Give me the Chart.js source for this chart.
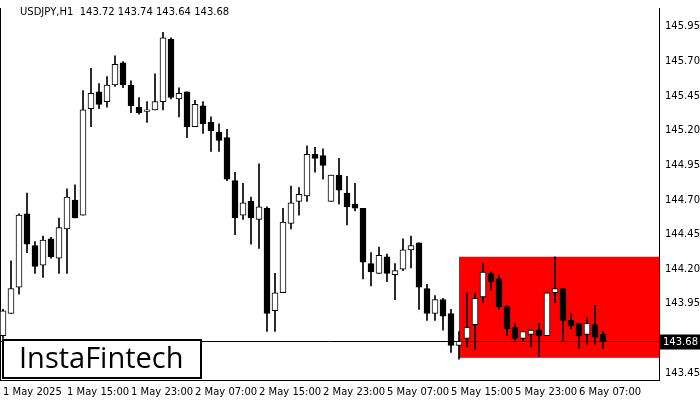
<!DOCTYPE html>
<html><head><meta charset="utf-8">
<script src="https://cdn.jsdelivr.net/npm/chart.js@4"></script>
<style>html,body{margin:0;padding:0;background:#fff}#wrap{width:700px;height:400px}</style>
</head><body><div id="wrap"><canvas id="c" width="700" height="400"></canvas></div>
<script>
const opens  = [143.72,143.88,144.07,144.60,144.37,144.23,144.42,144.28,144.49,144.70,144.59,145.36,145.48,145.41,145.53,145.69,145.53,145.37,145.34,145.35,145.41,145.86,145.43,145.48,145.23,145.38,145.26,145.19,145.15,144.84,144.59,144.69,144.56,144.64,143.90,144.03,144.53,144.69,144.73,145.03,145.02,144.69,144.88,144.75,144.67,144.64,144.24,144.17,144.29,144.16,144.20,144.34,144.39,144.06,143.88,143.98,143.88,143.65,143.70,143.80,144.00,144.17,144.13,143.93,143.78,143.70,143.73,143.76,143.72,144.03,144.06,143.83,143.81,143.73,143.80,143.73];
const highs  = [143.91,144.26,144.60,144.75,144.40,144.44,144.43,144.57,144.78,144.81,145.49,145.65,145.54,145.59,145.74,145.70,145.56,145.44,145.41,145.61,145.91,145.87,145.51,145.48,145.42,145.41,145.30,145.25,145.21,144.90,144.82,144.72,144.96,144.65,144.17,144.64,144.80,144.79,145.09,145.08,145.07,144.88,145.00,144.87,144.82,144.64,144.32,144.36,144.31,144.24,144.42,144.44,144.39,144.09,144.01,143.99,143.91,143.75,144.03,144.03,144.24,144.18,144.16,143.94,143.81,143.75,143.76,143.81,144.03,144.29,144.06,143.88,143.81,143.85,143.94,143.75];
const lows   = [143.70,143.88,144.02,144.32,144.17,144.14,144.28,144.17,144.17,144.57,144.59,145.23,145.36,145.37,145.52,145.51,145.33,145.32,145.26,145.35,145.35,145.43,145.30,145.15,145.23,145.18,145.05,145.05,144.84,144.45,144.56,144.38,144.35,143.75,143.75,144.03,144.49,144.59,144.69,144.90,144.85,144.69,144.67,144.52,144.62,144.13,144.08,144.17,144.11,143.98,144.19,144.21,143.91,143.83,143.83,143.76,143.60,143.55,143.64,143.62,143.96,144.05,143.91,143.72,143.69,143.68,143.64,143.57,143.72,143.96,143.68,143.77,143.63,143.66,143.66,143.63];
const closes = [143.90,144.06,144.59,144.38,144.22,144.41,144.29,144.50,144.72,144.57,145.35,145.47,145.39,145.53,145.68,145.53,145.38,145.33,145.35,145.41,145.87,145.44,145.47,145.23,145.39,145.25,145.20,145.13,144.85,144.57,144.68,144.57,144.65,143.88,144.03,144.54,144.68,144.74,145.03,145.00,144.95,144.88,144.77,144.65,144.64,144.25,144.18,144.30,144.17,144.19,144.34,144.37,144.07,143.88,143.98,143.86,143.65,143.68,143.78,143.99,144.18,144.11,143.93,143.77,143.70,143.75,143.76,143.72,144.03,144.06,143.83,143.79,143.72,143.81,143.71,143.68];
const timeTickIdx = [0,8,16,24,32,40,48,56,64,72];
const timeLabels = ["1 May 2025","1 May 15:00","1 May 23:00","2 May 07:00","2 May 15:00","2 May 23:00","5 May 07:00","5 May 15:00","5 May 23:00","6 May 07:00"];
const priceTicks = [143.45,143.70,143.95,144.20,144.45,144.70,144.95,145.20,145.45,145.70,145.95];
const zoneStart = 57, zoneLow = 143.56, zoneHigh = 144.29;
const lastPrice = 143.68;
const title = "USDJPY,H1  143.72 143.74 143.64 143.68";

const up = opens.map((o,i)=>closes[i]>=o);
const wickData = highs.map((h,i)=>({x:i,y:[lows[i],h]}));
const bodyData = opens.map((o,i)=>({x:i,y:[o,closes[i]]}));

const overlay = {
  id:'overlay',
  beforeDatasetsDraw(ch){
    const {ctx,chartArea:a,scales:{x,y}} = ch;
    ctx.save();
    ctx.fillStyle='#ff0000';
    const x0=x.getPixelForValue(zoneStart), y0=y.getPixelForValue(zoneHigh), y1=y.getPixelForValue(zoneLow);
    ctx.fillRect(x0,y0,a.right-x0,y1-y0);
    ctx.strokeStyle='#000';ctx.lineWidth=1;
    ctx.beginPath();ctx.moveTo(0.5,a.top);ctx.lineTo(0.5,a.bottom);ctx.stroke();
    ctx.restore();
  },
  afterDraw(ch){
    const {ctx,chartArea:a,scales:{x,y}} = ch;
    ctx.save();
    const py=Math.round(y.getPixelForValue(lastPrice))+0.5;
    ctx.strokeStyle='#000';ctx.lineWidth=1;
    ctx.beginPath();ctx.moveTo(a.left,py);ctx.lineTo(a.right,py);ctx.stroke();
    ctx.fillStyle='#fff';ctx.fillRect(a.right+2,py-14,40,8);
    ctx.fillStyle='#000';ctx.fillRect(a.right+1,py-7,40,15);
    ctx.fillStyle='#fff';ctx.font='10px "DejaVu Sans"';ctx.textBaseline='middle';ctx.textAlign='left';
    ctx.fillText(lastPrice.toFixed(2),a.right+4,py+1);
    ctx.fillStyle='#000';ctx.font='10px "DejaVu Sans"';
    ctx.fillText(title,20,12);
    ctx.fillStyle='#fff';ctx.fillRect(3,340,198,38);
    ctx.strokeStyle='#000';ctx.lineWidth=2;ctx.strokeRect(3,340,198,38);
    ctx.fillStyle='#000';ctx.font='500 29px "Open Sans"';ctx.textAlign='left';
    ctx.fillText('InstaFintech',19,360);
    ctx.restore();
  }
};

new Chart(document.getElementById('c'),{
  type:'bar',
  data:{datasets:[
    {data:wickData,backgroundColor:'#000',barThickness:1,order:2,grouped:false},
    {data:bodyData,backgroundColor:up.map(u=>u?'#fff':'#000'),borderColor:'#000',borderWidth:1,borderSkipped:false,barThickness:6,order:1,grouped:false}
  ]},
  options:{
    responsive:false,animation:false,
    layout:{padding:{top:4,left:0,right:0,bottom:0}},
    plugins:{legend:{display:false},tooltip:{enabled:false}},
    scales:{
      x:{type:'linear',min:-0.375,max:82,offset:false,
        grid:{display:false,drawTicks:true,tickLength:4},
        border:{display:true,color:'#000'},
        afterBuildTicks:s=>{s.ticks=timeTickIdx.map(v=>({value:v}));},
        afterFit:s=>{s.height=20;},
        ticks:{autoSkip:false,maxRotation:0,align:'start',padding:2,color:'#000',font:{size:10,family:'DejaVu Sans'},
          callback:(v)=>{const i=timeTickIdx.indexOf(v);return i>=0?timeLabels[i]:'';}}
      },
      y:{position:'right',min:143.40,max:146.086,
        grid:{display:false,tickLength:4},
        border:{display:true,color:'#000'},
        afterBuildTicks:s=>{s.ticks=priceTicks.map(v=>({value:v}));},
        afterFit:s=>{s.width=41;},
        ticks:{color:'#000',padding:2,font:{size:10,family:'DejaVu Sans'},callback:v=>Number(v).toFixed(2)}
      }
    }
  },
  plugins:[overlay]
});
</script></body></html>
